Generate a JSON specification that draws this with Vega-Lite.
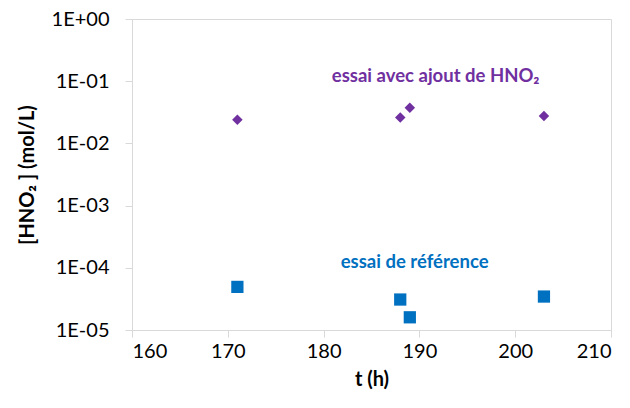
{
  "$schema": "https://vega.github.io/schema/vega-lite/v6.json",
  "autosize": "none",
  "width": 479,
  "height": 311,
  "padding": {"left": 132, "top": 19, "right": 19, "bottom": 78},
  "background": "white",
  "config": {
    "font": "Lato",
    "view": {"stroke": "#d9d9d9", "strokeWidth": 1},
    "axis": {
      "grid": false,
      "domainColor": "#d9d9d9",
      "tickColor": "#d9d9d9",
      "tickSize": 7,
      "labelFont": "Lato",
      "labelFontSize": 20,
      "labelColor": "#000000",
      "titleFont": "Lato",
      "titleFontSize": 20,
      "titleFontWeight": "bold",
      "titleColor": "#000000"
    }
  },
  "datasets": {
    "pts": [
      {"t": 171, "c": 0.024, "series": "ajout"},
      {"t": 188, "c": 0.026, "series": "ajout"},
      {"t": 189, "c": 0.0375, "series": "ajout"},
      {"t": 203, "c": 0.0275, "series": "ajout"},
      {"t": 171, "c": 0.0000493, "series": "ref"},
      {"t": 188, "c": 0.0000309, "series": "ref"},
      {"t": 189, "c": 0.0000160, "series": "ref"},
      {"t": 203, "c": 0.0000345, "series": "ref"}
    ],
    "labels": [
      {"t": 191.7, "c": 0.122, "series": "ajout", "label": "essai avec ajout de HNO₂"},
      {"t": 189.5, "c": 0.0001245, "series": "ref", "label": "essai de référence"}
    ]
  },
  "encoding": {
    "x": {
      "field": "t",
      "type": "quantitative",
      "scale": {"domain": [160, 210], "nice": false, "zero": false},
      "axis": {"values": [160, 170, 180, 190, 200, 210], "title": "t (h)", "labelPadding": 4, "titlePadding": 8}
    },
    "y": {
      "field": "c",
      "type": "quantitative",
      "scale": {"type": "log", "domain": [0.00001, 1], "nice": false},
      "axis": {
        "values": [0.00001, 0.0001, 0.001, 0.01, 0.1, 1],
        "labelExpr": "datum.value >= 1 ? '1E+00' : '1E-' + (round(-log(datum.value)/LN10) < 10 ? '0' : '') + round(-log(datum.value)/LN10)",
        "title": "[HNO₂ ] (mol/L)",
        "labelPadding": 16,
        "titlePadding": 14
      }
    },
    "color": {
      "field": "series",
      "type": "nominal",
      "scale": {"domain": ["ajout", "ref"], "range": ["#7030A0", "#0070C0"]},
      "legend": null
    }
  },
  "layer": [
    {
      "data": {"name": "pts"},
      "mark": {"type": "point", "filled": true, "opacity": 1},
      "encoding": {
        "shape": {
          "field": "series",
          "type": "nominal",
          "scale": {"domain": ["ajout", "ref"], "range": ["diamond", "square"]},
          "legend": null
        },
        "size": {
          "field": "series",
          "type": "nominal",
          "scale": {"domain": ["ajout", "ref"], "range": [110, 150]},
          "legend": null
        }
      }
    },
    {
      "data": {"name": "labels"},
      "mark": {"type": "text", "font": "Lato", "fontSize": 18.5, "fontWeight": "bold", "align": "center", "baseline": "middle"},
      "encoding": {
        "text": {"field": "label", "type": "nominal"}
      }
    }
  ]
}
